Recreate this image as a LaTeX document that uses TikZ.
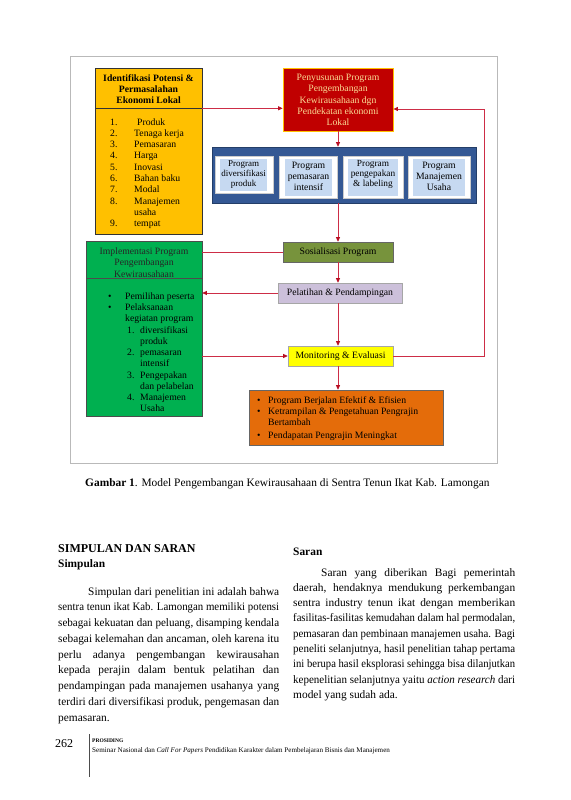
\documentclass[tikz,border=0pt]{standalone}
\usepackage{fontspec}
\setmainfont{Liberation Serif}
\usetikzlibrary{arrows.meta}
\definecolor{cYel}{RGB}{255,192,0}
\definecolor{cRed}{RGB}{192,0,0}
\definecolor{cRedTxt}{RGB}{250,220,150}
\definecolor{cBlue}{RGB}{52,88,148}
\definecolor{cLBlue}{RGB}{198,217,241}
\definecolor{cGreen}{RGB}{0,176,80}
\definecolor{cOlive}{RGB}{119,147,60}
\definecolor{cLav}{RGB}{204,192,218}
\definecolor{cYelB}{RGB}{255,255,0}
\definecolor{cOrange}{RGB}{228,108,10}
\definecolor{cLine}{RGB}{205,45,70}
\definecolor{cTip}{RGB}{185,15,35}
\newcommand\dfont{\fontsize{9.7}{11.3}\selectfont}
\newcommand\bfont{\fontsize{11.4}{13}\selectfont}
\newcommand\jl[2]{\setbox0\hbox{#2}\ifdim\wd0>#1\relax\resizebox{#1}{\height}{\box0}\else\makebox[#1][s]{#2}\fi}
\begin{document}
\begin{tikzpicture}[x=1pt,y=-1pt,
  box/.style={rectangle, inner sep=0pt, line width=0.6pt},
  dtext/.style={inner sep=0pt, font=\dfont, align=center},
  ltext/.style={inner sep=0pt, font=\dfont, anchor=base west},
  btext/.style={inner sep=0pt, font=\bfont, anchor=base west},
  ln/.style={draw=cLine, line width=0.75pt},
  arr/.style={ln, -{Triangle[length=4.5pt,width=4pt,color=cTip]}}]
\useasboundingbox (0,0) rectangle (570,800);
\fill[white] (0,0) rectangle (570,800);
% frame
\node[draw=gray!55, line width=1pt, minimum width=427pt, minimum height=406pt, inner sep=0pt] (frame) at (283.5,260) {};
% boxes
\node[box, fill=cYel, draw=black!80, minimum width=107pt, minimum height=40pt] (idH) at (148.5,88) {};
\node[box, fill=cYel, draw=black!80, minimum width=107pt, minimum height=126pt] (idB) at (148.5,171) {};
\node[box, fill=cRed, draw=cYel, line width=0.8pt, minimum width=110pt, minimum height=63pt] (red) at (338,99.5) {};
\node[box, fill=cBlue, draw=cBlue!70!black, minimum width=264pt, minimum height=56pt] (blue) at (344,175) {};
\node[box, fill=white, draw=gray!40, minimum width=58pt, minimum height=37pt] (b1) at (244,174.5) {};
\node[box, fill=white, draw=gray!40, minimum width=58pt, minimum height=42pt] (b2) at (308,177) {};
\node[box, fill=white, draw=gray!40, minimum width=60pt, minimum height=42pt] (b3) at (373,177) {};
\node[box, fill=white, draw=gray!40, minimum width=62pt, minimum height=42pt] (b4) at (439,177) {};
\node[box, fill=cLBlue, minimum width=47pt, minimum height=32pt] (i1) at (243.5,175) {};
\node[box, fill=cLBlue, minimum width=47pt, minimum height=37pt] (i2) at (308.5,177.5) {};
\node[box, fill=cLBlue, minimum width=50pt, minimum height=37pt] (i3) at (373,177.5) {};
\node[box, fill=cLBlue, minimum width=52pt, minimum height=37pt] (i4) at (439,177.5) {};
\node[box, fill=cGreen, draw=black!70, minimum width=116pt, minimum height=37pt] (greenH) at (144,259.5) {};
\node[box, fill=cGreen, draw=black!70, minimum width=116pt, minimum height=138pt] (greenB) at (144,347) {};
\node[box, fill=cOlive, draw=black!60, minimum width=110pt, minimum height=20pt] (soc) at (338,252) {};
\node[box, fill=cLav, draw=gray!70, minimum width=124pt, minimum height=20pt] (pel) at (340,293) {};
\node[box, fill=cYelB, draw=gray!70, minimum width=105pt, minimum height=20pt] (mon) at (340.5,356) {};
\node[box, fill=cOrange, draw=black!60, minimum width=194pt, minimum height=55pt] (org) at (346,417.5) {};
% connectors
\coordinate (loop) at (484,109);
\draw[arr] (idH.south east) -- (idH.south east -| red.west);
\draw[arr] (red.south) -- (red.south |- blue.north);
\draw[arr] (red.south |- blue.south) -- (red.south |- soc.north);
\draw[ln] (soc.west) -- (soc.west -| greenH.east);
\draw[arr] (soc.south) -- (soc.south |- pel.north);
\draw[arr] (pel.west) -- (pel.west -| greenB.east);
\draw[arr] (red.south |- pel.south) -- (red.south |- mon.north);
\draw[arr] (mon.west -| greenB.east) -- (mon.west);
\draw[arr] (red.south |- mon.south) -- (red.south |- org.north);
\draw[arr] (mon.east) -| (loop) -- (loop -| red.east);
% texts in diagram
\node[dtext, font=\dfont\bfseries] (idHt) at (148.5,89) {Identifikasi Potensi \&\\Permasalahan\\Ekonomi Lokal};
\foreach \yy/\nn/\tt [count=\i] in {125/1./\hspace{3pt}Produk, 136.3/2./Tenaga kerja, 147.6/3./Pemasaran, 158.9/4./Harga, 170.2/5./Inovasi, 181.5/6./Bahan baku, 192.8/7./Modal, 204.1/8./Manajemen, 215.4//usaha, 226.7/9./tempat}{
  \node[ltext] (yn\i) at (110,\yy) {\nn};
  \node[ltext] (yt\i) at (134,\yy) {\tt};
}
\node[dtext, text=cRedTxt] (redt) at (338,100) {Penyusunan Program\\Pengembangan\\Kewirausahaan dgn\\Pendekatan ekonomi\\Lokal};
\node[dtext, font=\fontsize{9}{10.3}\selectfont] (i1t) at (243.5,174.5) {Program\\diversifikasi\\produk};
\node[dtext, font=\fontsize{9.7}{11}\selectfont] (i2t) at (308.5,176.5) {Program\\pemasaran\\intensif};
\node[dtext, font=\fontsize{9.3}{10.3}\selectfont] (i3t) at (373,174.5) {Program\\pengepakan\\\& labeling};
\node[dtext, font=\fontsize{9.7}{11}\selectfont] (i4t) at (439,176.5) {Program\\Manajemen\\Usaha};
\node[dtext, text=black!85] (gHt) at (144,262.5) {Implementasi Program\\Pengembangan\\Kewirausahaan};
\node[ltext] (gb1) at (108,299.3) {\textbullet};
\node[ltext] (gt1) at (125,299.3) {Pemilihan peserta};
\node[ltext] (gb2) at (108,310.5) {\textbullet};
\node[ltext] (gt2) at (125,310.5) {Pelaksanaan};
\node[ltext] (gt3) at (125,321.8) {kegiatan program};
\node[ltext] (gn4) at (127,333) {1.};
\node[ltext] (gt4) at (140,333) {diversifikasi};
\node[ltext] (gt5) at (140,344.3) {produk};
\node[ltext] (gn6) at (127,355.5) {2.};
\node[ltext] (gt6) at (140,355.5) {pemasaran};
\node[ltext] (gt7) at (140,366.8) {intensif};
\node[ltext] (gn8) at (127,378) {3.};
\node[ltext] (gt8) at (140,378) {Pengepakan};
\node[ltext] (gt9) at (140,389.3) {dan pelabelan};
\node[ltext] (gn10) at (127,400.5) {4.};
\node[ltext] (gt10) at (140,400.5) {Manajemen};
\node[ltext] (gt11) at (140,411.8) {Usaha};
\node[dtext] (soct) at (338,252) {Sosialisasi Program};
\node[dtext] (pelt) at (340,293) {Pelatihan \& Pendampingan};
\node[dtext] (mont) at (340.5,356) {Monitoring \& Evaluasi};
\node[ltext] (ob1) at (257,403.3) {\textbullet};
\node[ltext] (ot1) at (268,403.3) {Program Berjalan Efektif \& Efisien};
\node[ltext] (ob2) at (257,414.5) {\textbullet};
\node[ltext] (ot2) at (268,414.5) {Ketrampilan \& Pengetahuan Pengrajin};
\node[ltext] (ot3) at (268,425.8) {Bertambah};
\node[ltext] (ob4) at (257,438.3) {\textbullet};
\node[ltext] (ot4) at (268,438.3) {Pendapatan Pengrajin Meningkat};
% caption
\node[inner sep=0pt, anchor=base west, font=\fontsize{11.4}{13}\selectfont] (cap) at (85,486) {\textbf{Gambar 1}. Model Pengembangan Kewirausahaan di Sentra Tenun Ikat Kab. Lamongan};
% headings
\node[btext, font=\fontsize{12}{14}\selectfont\bfseries] (h1) at (58,552) {SIMPULAN DAN SARAN};
\node[btext, font=\bfont\bfseries] (h2) at (58,567.5) {Simpulan};
\node[btext, font=\bfont\bfseries] (h3) at (293,555) {Saran};
% left column
\node[btext] (l1) at (88,595) {\jl{191pt}{Simpulan dari penelitian ini adalah bahwa}};
\node[btext] (l2) at (58,610.75) {\jl{221pt}{sentra tenun ikat Kab. Lamongan memiliki potensi}};
\node[btext] (l3) at (58,626.5) {\jl{221pt}{sebagai kekuatan dan peluang, disamping kendala}};
\node[btext] (l4) at (58,642.25) {\jl{221pt}{sebagai kelemahan dan ancaman, oleh karena itu}};
\node[btext] (l5) at (58,658) {\jl{221pt}{perlu adanya pengembangan kewirausahan}};
\node[btext] (l6) at (58,673.75) {\jl{221pt}{kepada perajin dalam bentuk pelatihan dan}};
\node[btext] (l7) at (58,689.5) {\jl{221pt}{pendampingan pada manajemen usahanya yang}};
\node[btext] (l8) at (58,705.25) {\jl{221pt}{terdiri dari diversifikasi produk, pengemasan dan}};
\node[btext] (l9) at (58,721) {pemasaran.};
% right column
\node[btext] (r1) at (321,576) {\jl{194pt}{Saran yang diberikan Bagi pemerintah}};
\node[btext] (r2) at (293,591.3) {\jl{222pt}{daerah, hendaknya mendukung perkembangan}};
\node[btext] (r3) at (293,606.6) {\jl{222pt}{sentra industry tenun ikat dengan memberikan}};
\node[btext] (r4) at (293,621.9) {\jl{222pt}{fasilitas-fasilitas kemudahan dalam hal permodalan,}};
\node[btext] (r5) at (293,637.2) {\jl{222pt}{pemasaran dan pembinaan manajemen usaha. Bagi}};
\node[btext] (r6) at (293,652.5) {\jl{222pt}{peneliti selanjutnya, hasil penelitian tahap pertama}};
\node[btext] (r7) at (293,667.8) {\jl{222pt}{ini berupa hasil eksplorasi sehingga bisa dilanjutkan}};
\node[btext] (r8) at (293,683.1) {\jl{222pt}{kepenelitian selanjutnya yaitu \textit{action research} dari}};
\node[btext] (r9) at (293,698.4) {model yang sudah ada.};
% footer
\node[inner sep=0pt, anchor=base west, font=\fontsize{12}{14}\selectfont] (pg) at (55,747) {262};
\coordinate (barT) at (89,734);
\coordinate (barB) at (89,777);
\draw[line width=0.8pt, black!70] (barT) -- (barB);
\node[inner sep=0pt, anchor=base west, font=\fontsize{5.5}{6}\selectfont\bfseries] (pros) at (92,742.5) {PROSIDING};
\node[inner sep=0pt, anchor=base west, font=\fontsize{7.1}{8}\selectfont] (sem) at (92,752) {Seminar Nasional dan \textit{Call For Papers} Pendidikan Karakter dalam Pembelajaran Bisnis dan Manajemen};
\end{tikzpicture}
\end{document}
